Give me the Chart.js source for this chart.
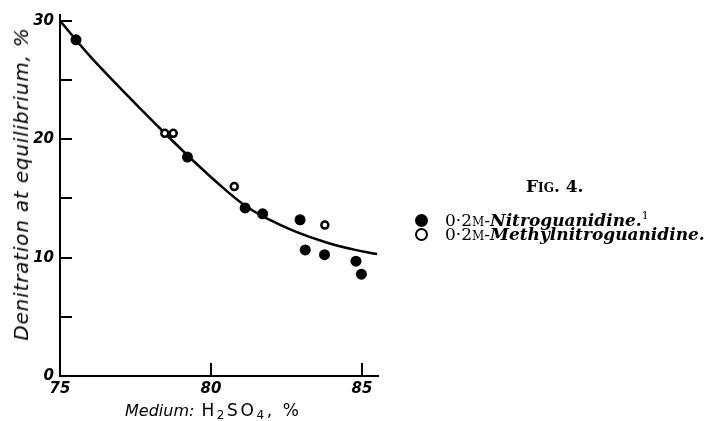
<!DOCTYPE html>
<html>
<head>
<meta charset="utf-8">
<script src="https://cdn.jsdelivr.net/npm/chart.js@4.4.0/dist/chart.umd.min.js"></script>
<style>
  html, body { margin: 0; padding: 0; background: #fff; }
  #wrap { position: relative; width: 709px; height: 421px; overflow: hidden; }
  #chart { position: absolute; left: 0; top: 0; }
  .ytitle {
    position: absolute; left: 21px; top: 184px; white-space: nowrap;
    transform: translate(-50%, -50%) rotate(-90deg);
    font-family: "DejaVu Sans"; font-style: italic; font-size: 20px; letter-spacing: 0.8px; color: #000;
  }
  .xtitle {
    position: absolute; left: 125px; top: 401px; white-space: nowrap;
    font-family: "DejaVu Sans"; font-size: 16px; color: #000; line-height: 18px;
  }
  .xtitle i { margin-right: 7px; }
  .xtitle .chem { font-size: 17px; letter-spacing: 2.6px; }
  .xtitle sub { font-size: 12px; vertical-align: -3px; }
  .legend-item { position: absolute; color: #000; font-family: "DejaVu Serif"; white-space: nowrap; }
  .fig { left: 526px; top: 178px; font-size: 17px; line-height: 17px; font-weight: bold; }
  .row { left: 415px; display: flex; align-items: center; height: 14px; font-size: 17px; line-height: 14px; }
  .mark { display: inline-block; width: 13px; height: 13px; border-radius: 50%; box-sizing: border-box; margin-right: 17px; }
  .filled { background: #000; }
  .open { border: 2.5px solid #000; background: #fff; }
  .row i { font-weight: bold; }
  .sc { font-variant: small-caps; }
</style>
</head>
<body>
<div id="wrap">
  <canvas id="chart" width="709" height="421"></canvas>
  <div class="ytitle">Denitration at equilibrium, %</div>
  <div class="xtitle"><i>Medium:</i><span class="chem">H<sub>2</sub>SO<sub>4</sub>, %</span></div>
  <div id="legend"></div>
</div>
<script>
// ===== Data =====
const seriesNames = ['Nitroguanidine', 'Methylnitroguanidine'];

// 0.2M-Nitroguanidine (filled)
const nitroX = [75.53, 79.22, 81.13, 81.71, 82.95, 83.12, 83.76, 84.80, 84.98];
const nitroY = [28.4, 18.5, 14.2, 13.7, 13.2, 10.65, 10.25, 9.7, 8.6];

// 0.2M-Methylnitroguanidine (open)
const methylX = [78.47, 78.75, 80.77, 83.77];
const methylY = [20.5, 20.5, 16.0, 12.75];

// Smooth curve through the data
const curveX = [75.0, 76.0, 77.1, 78.2, 79.2, 80.2, 81.1, 81.9, 82.8, 83.8, 84.7, 85.5];
const curveY = [30.0, 27.0, 24.05, 21.2, 18.7, 16.35, 14.45, 13.25, 12.2, 11.3, 10.7, 10.3];

// Axis ticks
const xTicks = [75, 80, 85];
const xMarks = [80, 85];
const yTicks = [0, 10, 20, 30];
const yMarks = [5, 10, 15, 20, 25, 30];

// ===== Helpers =====
const toPoints = (xs, ys) => xs.map((x, i) => ({ x, y: ys[i] }));

// Inward tick marks, as in the printed figure
const innerTicks = {
  id: 'innerTicks',
  afterDraw(chart) {
    const { ctx, scales: { x, y } } = chart;
    ctx.save();
    ctx.strokeStyle = '#000';
    ctx.lineWidth = 2;
    ctx.beginPath();
    yMarks.forEach(v => {
      const py = Math.round(y.getPixelForValue(v));
      ctx.moveTo(x.left, py);
      ctx.lineTo(x.left + 12, py);
    });
    xMarks.forEach(v => {
      const px = Math.round(x.getPixelForValue(v));
      ctx.moveTo(px, y.bottom);
      ctx.lineTo(px, y.bottom - 13);
    });
    ctx.stroke();
    ctx.restore();
  }
};

// ===== Chart =====
const tickFont = { family: 'DejaVu Sans', style: 'italic', weight: 'bold', size: 15 };

new Chart(document.getElementById('chart'), {
  type: 'scatter',
  data: {
    datasets: [
      {
        label: seriesNames[0],
        data: toPoints(nitroX, nitroY),
        pointRadius: 5.5,
        pointBackgroundColor: '#000',
        pointBorderColor: '#000',
        pointBorderWidth: 0,
        order: 1
      },
      {
        label: seriesNames[1],
        data: toPoints(methylX, methylY),
        pointRadius: 3.5,
        pointBackgroundColor: '#fff',
        pointBorderColor: '#000',
        pointBorderWidth: 2.5,
        order: 1
      },
      {
        label: 'curve',
        data: toPoints(curveX, curveY),
        showLine: true,
        pointRadius: 0,
        borderColor: '#000',
        borderWidth: 2.5,
        tension: 0.4,
        order: 2
      }
    ]
  },
  options: {
    responsive: false,
    animation: false,
    events: [],
    layout: { padding: { top: 13, right: 331, left: 0, bottom: 0 } },
    plugins: { legend: { display: false }, tooltip: { enabled: false } },
    scales: {
      x: {
        type: 'linear',
        min: 75, max: 85.53,
        afterFit: s => { s.height = 45; },
        afterBuildTicks: s => { s.ticks = xTicks.map(v => ({ value: v })); },
        grid: { display: false, drawTicks: false },
        border: { display: true, color: '#000', width: 2 },
        ticks: { color: '#000', font: tickFont, padding: 4, maxRotation: 0 }
      },
      y: {
        type: 'linear',
        min: 0, max: 30.5,
        afterFit: s => { s.width = 60; },
        afterBuildTicks: s => { s.ticks = yTicks.map(v => ({ value: v })); },
        grid: { display: false, drawTicks: false },
        border: { display: true, color: '#000', width: 2 },
        ticks: { color: '#000', font: tickFont, padding: 6 }
      }
    }
  },
  plugins: [innerTicks]
});

// ===== Legend (figure caption) =====
const legend = document.getElementById('legend');
legend.innerHTML =
  `<div class="legend-item fig"><span class="sc">Fig.</span> 4.</div>` +
  `<div class="legend-item row" style="top:213px"><span class="mark filled"></span>0·2<span class="sc">m</span>-<i>${seriesNames[0]}.</i><sup style="font-size:11px;line-height:0;position:relative;top:-4px">1</sup></div>` +
  `<div class="legend-item row" style="top:227px"><span class="mark open"></span>0·2<span class="sc">m</span>-<i>${seriesNames[1]}.</i></div>`;
</script>
</body>
</html>
